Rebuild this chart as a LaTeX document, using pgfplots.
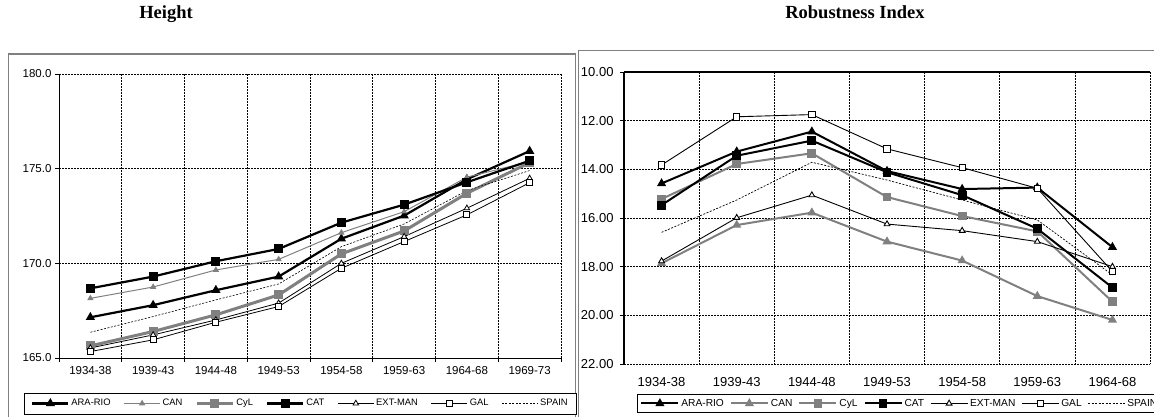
\documentclass[border=0pt]{standalone}
\usepackage{fontspec}
\setmainfont{Liberation Sans}
\newfontfamily\titlefont{Liberation Serif}
\usepackage{pgfplots}
\pgfplotsset{compat=1.18}
\definecolor{mygray}{RGB}{128,128,128}

\pgfplotsset{
  mygrid/.style={
    grid style={black, line width=0.6bp, dash pattern=on 2bp off 1bp},
    minor grid style={black, line width=0.6bp, dash pattern=on 2bp off 1bp},
  },
}

\begin{document}
\begin{tikzpicture}[x=1bp,y=1bp]
\useasboundingbox (0,0) rectangle (1154,416);
\draw[mygray, line width=1bp] (8,-10) -- (8,362) -- (575,362) -- (575,-10);
\draw[mygray, line width=1bp] (578,-10) -- (578,365) -- (1170,365);
\node[font={\titlefont\bfseries\fontsize{18.5bp}{21bp}\selectfont}, anchor=base] at (166,397.5) {Height};
\node[font={\titlefont\bfseries\fontsize{18.5bp}{21bp}\selectfont}, anchor=base] at (855,397.5) {Robustness Index};

% ---------------- Height ----------------
\begin{axis}[
  at={(59bp,58bp)}, anchor=south west,
  scale only axis, width=502bp, height=284bp,
  xmin=-0.5, xmax=7.5, ymin=165, ymax=180,
  axis line style={draw=none},
  xtick={0,...,7},
  xticklabels={1934-38,1939-43,1944-48,1949-53,1954-58,1959-63,1964-68,1969-73},
  minor xtick={-0.5,0.5,...,7.5},
  ytick={165,170,175,180},
  tick align=outside, xtick pos=left, ytick pos=left,
  major x tick style={draw=none},
  minor x tick style={black, line width=0.7bp},
  major y tick style={black, line width=0.7bp},
  major tick length=4bp, minor tick length=4bp,
  xminorgrids=true, ymajorgrids=true, xmajorgrids=false,
  mygrid,
  yticklabel style={/pgf/number format/.cd, fixed, fixed zerofill, precision=1, assume math mode=true},
  xticklabel style={yshift=-1bp},
  ticklabel style={font=\fontsize{11.5bp}{13bp}\selectfont},
  legend style={at={(0.481,-0.160)}, anchor=center, legend columns=7, draw=black, line width=0.8bp,
    font=\fontsize{9.4bp}{11bp}\selectfont, inner ysep=4.5bp, inner xsep=7bp,
    /tikz/every even column/.append style={column sep=11bp}},
  legend image code/.code={\draw[mark repeat=2,mark phase=2] plot coordinates {(0bp,0bp) (18bp,0bp) (36bp,0bp)};},
  after end axis/.code={\draw[black, line width=0.8bp] (axis cs:-0.5,180) -- (axis cs:-0.5,165) -- (axis cs:7.5,165);},
]
\addplot[black, line width=2.2bp, mark=triangle*, mark size=3.2bp, mark options={solid}] coordinates
 {(0,167.15) (1,167.79) (2,168.58) (3,169.30) (4,171.30) (5,172.52) (6,174.44) (7,175.93)};
\addlegendentry{ARA-RIO}
\addplot[mygray, line width=1bp, mark=triangle*, mark size=2.7bp, mark options={solid}] coordinates
 {(0,168.15) (1,168.75) (2,169.65) (3,170.21) (4,171.62) (5,172.73) (6,174.55) (7,175.37)};
\addlegendentry{CAN}
\addplot[mygray, line width=3bp, mark=square*, mark size=3bp, mark options={solid}] coordinates
 {(0,165.64) (1,166.40) (2,167.28) (3,168.33) (4,170.50) (5,171.71) (6,173.70) (7,175.32)};
\addlegendentry{CyL}
\addplot[black, line width=2.2bp, mark=square*, mark size=3.4bp, mark options={solid}] coordinates
 {(0,168.68) (1,169.30) (2,170.11) (3,170.76) (4,172.15) (5,173.10) (6,174.28) (7,175.42)};
\addlegendentry{CAT}
\addplot[black, line width=0.8bp, mark=triangle*, mark size=3.2bp, mark options={solid, fill=white}] coordinates
 {(0,165.53) (1,166.22) (2,167.01) (3,167.90) (4,170.00) (5,171.41) (6,172.91) (7,174.49)};
\addlegendentry{EXT-MAN}
\addplot[black, line width=0.8bp, mark=square*, mark size=3bp, mark options={solid, fill=white}] coordinates
 {(0,165.34) (1,165.96) (2,166.89) (3,167.72) (4,169.74) (5,171.15) (6,172.56) (7,174.26)};
\addlegendentry{GAL}
\addplot[black, line width=0.6bp, dash pattern=on 2bp off 1.5bp] coordinates
 {(0,166.36) (1,167.19) (2,168.07) (3,168.91) (4,170.88) (5,172.08) (6,173.84) (7,174.90)};
\addlegendentry{SPAIN}
\end{axis}

% ---------------- Robustness Index ----------------
\begin{axis}[
  at={(624bp,52bp)}, anchor=south west,
  scale only axis, width=526bp, height=292bp,
  xmin=-0.5, xmax=6.5, ymin=10, ymax=22, y dir=reverse,
  axis line style={draw=none},
  xtick={0,...,6},
  xticklabels={1934-38,1939-43,1944-48,1949-53,1954-58,1959-63,1964-68},
  minor xtick={0.5,1.5,...,6.5},
  ytick={10,12,...,22},
  tick align=outside, xticklabel pos=lower, ytick pos=left,
  major x tick style={draw=none},
  minor x tick style={draw=none},
  major y tick style={black, line width=0.8bp},
  major tick length=4bp,
  xminorgrids=true, ymajorgrids=true, xmajorgrids=false,
  mygrid,
  yticklabel style={xshift=-3bp, /pgf/number format/.cd, fixed, fixed zerofill, precision=2, assume math mode=true},
  xticklabel style={yshift=-6bp},
  ticklabel style={font=\fontsize{13bp}{15bp}\selectfont},
  legend style={at={(0.0247,-0.135)}, anchor=west, legend columns=7, draw=black, line width=0.8bp,
    font=\fontsize{10.2bp}{12bp}\selectfont, inner ysep=3bp, inner xsep=3bp,
    /tikz/every even column/.append style={column sep=4bp}},
  legend image code/.code={\draw[mark repeat=2,mark phase=2] plot coordinates {(0bp,0bp) (18.5bp,0bp) (37bp,0bp)};},
  after end axis/.code={
    \draw[black, line width=1.3bp] (axis cs:-0.5,22) -- (axis cs:-0.5,10);
    \draw[black, line width=2.2bp] (axis cs:-0.5,10) -- (axis cs:6.5,10);},
]
\addplot[black, line width=2bp, mark=triangle*, mark size=3.3bp, mark options={solid}] coordinates
 {(0,14.58) (1,13.27) (2,12.45) (3,14.07) (4,14.81) (5,14.75) (6,17.20)};
\addlegendentry{ARA-RIO}
\addplot[mygray, line width=2bp, mark=triangle*, mark size=3.3bp, mark options={solid}] coordinates
 {(0,17.86) (1,16.29) (2,15.78) (3,16.97) (4,17.75) (5,19.21) (6,20.19)};
\addlegendentry{CAN}
\addplot[mygray, line width=2bp, mark=square*, mark size=3.4bp, mark options={solid}] coordinates
 {(0,15.22) (1,13.78) (2,13.34) (3,15.14) (4,15.92) (5,16.55) (6,19.44)};
\addlegendentry{CyL}
\addplot[black, line width=2bp, mark=square*, mark size=3.4bp, mark options={solid}] coordinates
 {(0,15.47) (1,13.44) (2,12.82) (3,14.12) (4,15.06) (5,16.44) (6,18.86)};
\addlegendentry{CAT}
\addplot[black, line width=0.9bp, mark=triangle*, mark size=3.3bp, mark options={solid, fill=white}] coordinates
 {(0,17.77) (1,15.99) (2,15.06) (3,16.25) (4,16.52) (5,16.97) (6,18.00)};
\addlegendentry{EXT-MAN}
\addplot[black, line width=0.9bp, mark=square*, mark size=3.2bp, mark options={solid, fill=white}] coordinates
 {(0,13.82) (1,11.84) (2,11.75) (3,13.16) (4,13.93) (5,14.78) (6,18.20)};
\addlegendentry{GAL}
\addplot[black, line width=0.7bp, dash pattern=on 2bp off 1.5bp] coordinates
 {(0,16.59) (1,15.26) (2,13.71) (3,14.44) (4,15.26) (5,16.08) (6,18.34)};
\addlegendentry{SPAIN}
\end{axis}
\end{tikzpicture}
\end{document}
